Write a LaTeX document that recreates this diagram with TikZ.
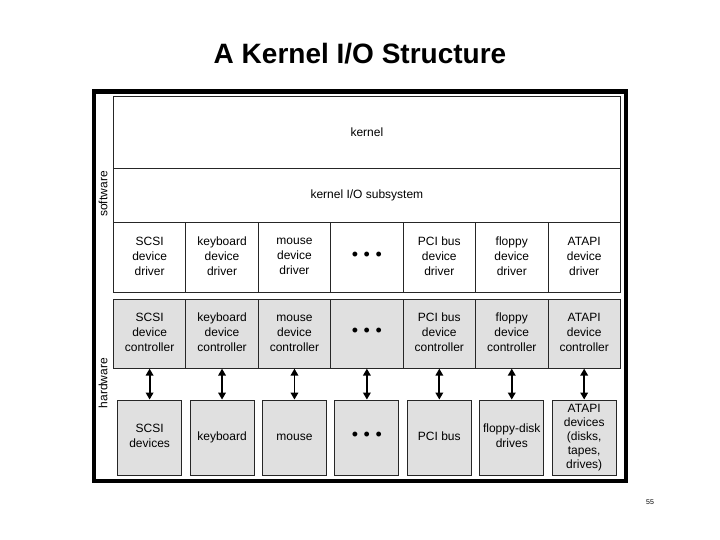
\documentclass[tikz,border=0pt]{standalone}
\usepackage{fontspec}
\setmainfont{Liberation Sans}
\usetikzlibrary{positioning,arrows.meta}
\definecolor{hwgray}{gray}{0.88}
\newcommand{\ioDots}{\fontsize{18}{15}\selectfont\textbullet\hspace{5.5pt}\textbullet\hspace{5.5pt}\textbullet}
\newcommand{\ioLine}{\rule[-3pt]{0pt}{11pt}}

\begin{document}
\begin{tikzpicture}[x=1pt,y=-1pt,
		txt/.style={font=\fontsize{12}{15}\selectfont, align=center},
		layer/.style={txt, draw=black!85, line width=.8pt, minimum width=507pt, inner sep=0pt, anchor=north west},
		cell/.style={txt, draw=black!85, line width=.8pt, minimum width=72.4pt, minimum height=70pt, inner sep=0pt, anchor=north west},
		ctl/.style={cell, fill=hwgray, minimum height=69pt, anchor=north},
		dev/.style={txt, draw=black!85, line width=.8pt, fill=hwgray, minimum width=64pt, minimum height=75pt, inner sep=0pt, anchor=north},
		link/.style={{Triangle[length=7pt,width=7.5pt]}-{Triangle[length=7pt,width=7.5pt]}, line width=1.8pt}]
	\useasboundingbox (0,0) rectangle (720,540);

	\node[font=\fontsize{28}{28}\selectfont\bfseries] (title) at (360,54) {A Kernel I/O Structure};

	% software part
	\node[layer, minimum height=72pt] (kern) at (113,96) {kernel};
	\node[layer, minimum height=54pt] (iosub) at (113,168) {kernel I/O subsystem};

	\foreach \i/\t in {0/{SCSI\\device\\driver}, 1/{keyboard\\device\\driver}, 2/{mouse\\device\\driver},
			3/{\ioDots}, 4/{PCI bus\\device\\driver}, 5/{floppy\\device\\driver}, 6/{ATAPI\\device\\driver}}
		\node[cell] (drv\i) at ({113+72.43*\i},222) {\ioLine\t\ioLine};

	% hardware part
	\foreach \i/\t in {0/{SCSI\\device\\controller}, 1/{keyboard\\device\\controller}, 2/{mouse\\device\\controller},
			3/{\ioDots}, 4/{PCI bus\\device\\controller}, 5/{floppy\\device\\controller}, 6/{ATAPI\\device\\controller}}
		\node[ctl, below=6pt of drv\i] (ctl\i) {\ioLine\t\ioLine};

	\foreach \i/\t in {0/{SCSI\\devices}, 1/{keyboard}, 2/{mouse}, 3/{\ioDots}, 4/{PCI bus},
			5/{floppy-disk\\drives}}
		\node[dev, below=31pt of ctl\i] (dev\i) {\ioLine\t\ioLine};
	\node[dev, font=\fontsize{12}{14}\selectfont, below=31pt of ctl6] (dev6) {ATAPI\\devices\\(disks,\\tapes,\\drives)};

	\foreach \i in {0,...,6}
		\draw[link] (ctl\i) -- (dev\i);

	\node[txt, rotate=90] (sw) at (103,194) {software};
	\node[txt, rotate=90] (hw) at (103,383) {hardware};

	\draw[line width=4.5pt] (94,91.5) rectangle (626,481);

	\node[font=\fontsize{7}{7}\selectfont] (page) at (650,502) {55};
\end{tikzpicture}
\end{document}
